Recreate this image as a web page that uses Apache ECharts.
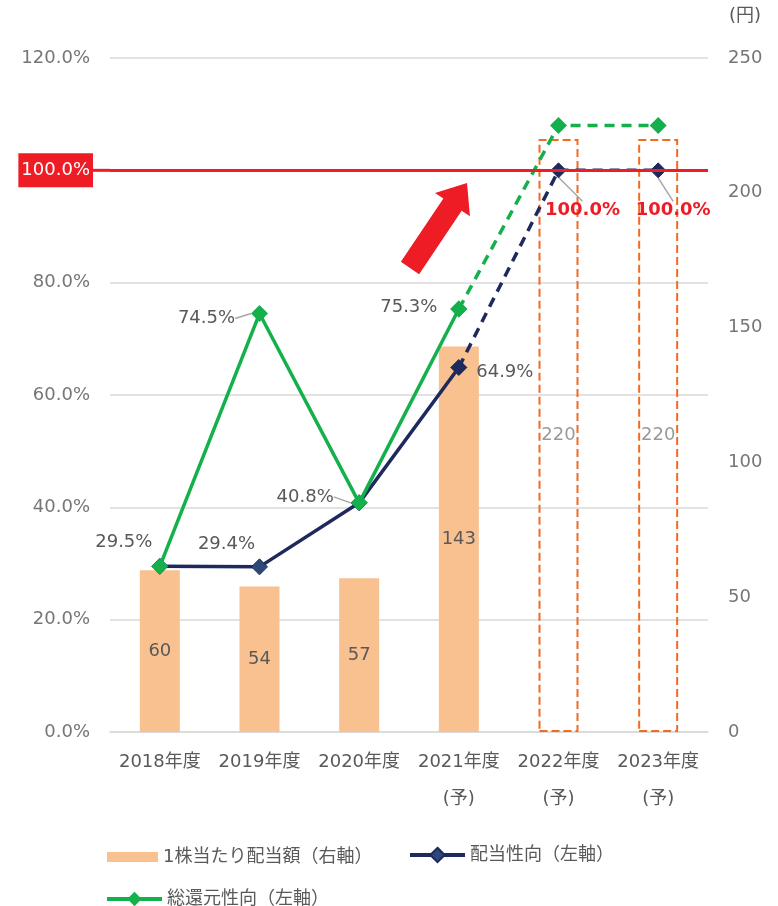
<!DOCTYPE html>
<html><head><meta charset="utf-8">
<script src="https://cdn.jsdelivr.net/npm/echarts@6/dist/echarts.min.js"></script>
<style>html,body{margin:0;padding:0;background:#fff}#c{width:778px;height:906px}</style>
</head><body><div id="c"></div>
<script>
const categories = ['2018年度','2019年度','2020年度','2021年度\n(予)','2022年度\n(予)','2023年度\n(予)'];
const dividendPerShare = [60, 54, 57, 143, 220, 220];
const payoutRatio = [29.5, 29.4, 40.8, 64.9, 100.0, 100.0];
const totalReturnRatio = [29.5, 74.5, 40.8, 75.3, 108.0, 108.0];
const leftTicks = [0, 20, 40, 60, 80, 100, 120];
const rightTicks = [0, 50, 100, 150, 200, 250];
const forecastFrom = 4; // bars drawn as dashed outlines
const solidUntil = 3;   // lines solid up to this index

const FONT = '"DejaVu Sans","Noto Sans CJK JP",sans-serif';
const NAVY = '#1E2A5E', NAVY_FILL = '#2C4878', GREEN = '#14B04B', BAR = '#F8C18F', ORANGE = '#F36A21', RED = '#EE1C25';

// label offsets (relative to point), keyed by index: [dx, dy, leaderLine]
const greenLabels = {0:[-36,-24,false], 1:[-53,5,true], 2:[-54,-6,true], 3:[-50,-2,false]};
const navyLabels = {1:[-33,-23,false], 3:[46,5,false], 4:[24,40,true], 5:[15,40,true]};

function lineData(values, from, to, labels, red) {
  return values.map((v, i) => {
    if (i < from || i > to) return '-';
    const L = labels[i];
    const isRed = red && i >= 4;
    return {
      value: v,
      label: { show: !!L, color: isRed ? RED : '#595959', fontWeight: isRed ? 'bold' : 'normal', fontSize: 18 },
      labelLine: { show: !!(L && L[2]) }
    };
  });
}
function layoutFn(labels) {
  return function (p) {
    const L = labels[p.dataIndex];
    if (!L) return {};
    return { x: p.rect.x + p.rect.width / 2 + L[0], y: p.rect.y + p.rect.height / 2 + L[1], align: 'center', verticalAlign: 'middle' };
  };
}

const barData = dividendPerShare.map((v, i) => i >= forecastFrom ? {
  value: v,
  itemStyle: { color: 'rgba(255,255,255,0)', borderColor: ORANGE, borderWidth: 2, borderType: [8, 4] },
  label: { color: '#9a9a9a' }
} : { value: v });

const lineCommon = {
  type: 'line', yAxisIndex: 0, symbol: 'diamond',
  label: { show: false, fontSize: 18, fontFamily: FONT, color: '#595959', formatter: p => p.value.toFixed(1) + '%' },
  labelLine: { show: false, lineStyle: { color: '#A6A6A6', width: 1.5 }, length2: 0, smooth: false },
};

const legendText = { fontSize: 18, color: '#595959', fontFamily: FONT };

const chart = echarts.init(document.getElementById('c'), null, { renderer: 'canvas' });
chart.setOption({
  animation: false,
  textStyle: { fontFamily: FONT },
  grid: { left: 110, right: 70, top: 58, bottom: 174 },
  legend: [
    { left: 102, top: 843, itemWidth: 51, itemHeight: 10, itemGap: 0, textStyle: legendText,
      icon: 'rect', data: ['1株当たり配当額（右軸）'] },
    { left: 403, top: 841, itemWidth: 55, itemHeight: 18, textStyle: legendText,
      lineStyle: { width: 4 }, data: ['配当性向（左軸）'] },
    { left: 100, top: 885, itemWidth: 55, itemHeight: 18, textStyle: legendText,
      lineStyle: { width: 4 }, data: ['総還元性向（左軸）'] }
  ],
  xAxis: {
    type: 'category', data: categories,
    axisLine: { lineStyle: { color: '#D9D9D9', width: 1.5 } },
    axisTick: { show: false },
    axisLabel: { color: '#595959', fontSize: 18, lineHeight: 37, margin: 12, fontFamily: FONT, interval: 0 }
  },
  yAxis: [
    { type: 'value', min: leftTicks[0], max: leftTicks[leftTicks.length - 1], interval: 20,
      axisLine: { show: false }, axisTick: { show: false },
      axisLabel: { color: '#767676', fontSize: 18, margin: 20, formatter: v => v.toFixed(1) + '%' },
      splitLine: { lineStyle: { color: '#D9D9D9', width: 1.5 } } },
    { type: 'value', min: rightTicks[0], max: rightTicks[rightTicks.length - 1], interval: 50, position: 'right',
      name: '(円)', nameLocation: 'end', nameGap: 33,
      nameTextStyle: { color: '#595959', fontSize: 18, align: 'left', padding: [0, 0, 0, 21] },
      axisLine: { show: false }, axisTick: { show: false },
      axisLabel: { color: '#767676', fontSize: 18, margin: 20 },
      splitLine: { show: false } }
  ],
  series: [
    { name: '1株当たり配当額（右軸）', type: 'bar', yAxisIndex: 1, barWidth: 40, data: barData,
      itemStyle: { color: BAR },
      label: { show: true, position: 'inside', color: '#595959', fontSize: 18, fontFamily: FONT } },
    Object.assign({}, lineCommon, {
      name: '配当性向（左軸）', z: 3, symbolSize: 16,
      data: lineData(payoutRatio, 0, solidUntil, navyLabels, false),
      lineStyle: { color: NAVY, width: 3.5 },
      itemStyle: { color: NAVY_FILL, borderColor: NAVY, borderWidth: 1 },
      labelLayout: layoutFn(navyLabels),
      markLine: {
        silent: true, symbol: 'none',
        lineStyle: { color: RED, width: 3, type: 'solid' },
        label: { show: true, position: 'start', distance: 0, formatter: '{a|100.0%}{b|}',
          rich: { a: { color: '#fff', backgroundColor: RED, fontSize: 18, padding: [8, 3, 8, 3], fontFamily: FONT },
                  b: { width: 17, height: 3, backgroundColor: RED, verticalAlign: 'middle' } } },
        data: [{ yAxis: 100 }]
      }
    }),
    Object.assign({}, lineCommon, {
      name: '配当性向（左軸）', z: 3, symbolSize: 15,
      data: lineData(payoutRatio, solidUntil, payoutRatio.length - 1, Object.fromEntries(Object.entries(navyLabels).filter(([k]) => k > solidUntil)), true),
      lineStyle: { color: NAVY, width: 3.5, type: [10, 7] },
      itemStyle: { color: NAVY, borderColor: NAVY, borderWidth: 1 },
      labelLayout: layoutFn(navyLabels)
    }),
    Object.assign({}, lineCommon, {
      name: '総還元性向（左軸）', z: 4, symbolSize: 17,
      data: lineData(totalReturnRatio, 0, solidUntil, greenLabels, false),
      lineStyle: { color: GREEN, width: 3.5 },
      itemStyle: { color: GREEN },
      labelLayout: layoutFn(greenLabels)
    }),
    Object.assign({}, lineCommon, {
      name: '総還元性向（左軸）', z: 4, symbolSize: 17,
      data: lineData(totalReturnRatio, solidUntil, totalReturnRatio.length - 1, {}, false),
      lineStyle: { color: GREEN, width: 3.5, type: [10, 7] },
      itemStyle: { color: GREEN }
    })
  ],
  graphic: [{
    type: 'polygon', z: 10, silent: true,
    shape: { points: (function () {
      const tx = 410, ty = 268, hx = 467, hy = 183;
      const dx = hx - tx, dy = hy - ty, len = Math.hypot(dx, dy);
      const ux = dx / len, uy = dy / len, nx = -uy, ny = ux;
      const bw = 11, hw = 21, hl = 26;
      const bx = hx - ux * hl, by = hy - uy * hl;
      return [
        [tx + nx * bw, ty + ny * bw], [bx + nx * bw, by + ny * bw], [bx + nx * hw, by + ny * hw],
        [hx, hy],
        [bx - nx * hw, by - ny * hw], [bx - nx * bw, by - ny * bw], [tx - nx * bw, ty - ny * bw]
      ];
    })() },
    style: { fill: RED }
  }]
});
</script></body></html>
